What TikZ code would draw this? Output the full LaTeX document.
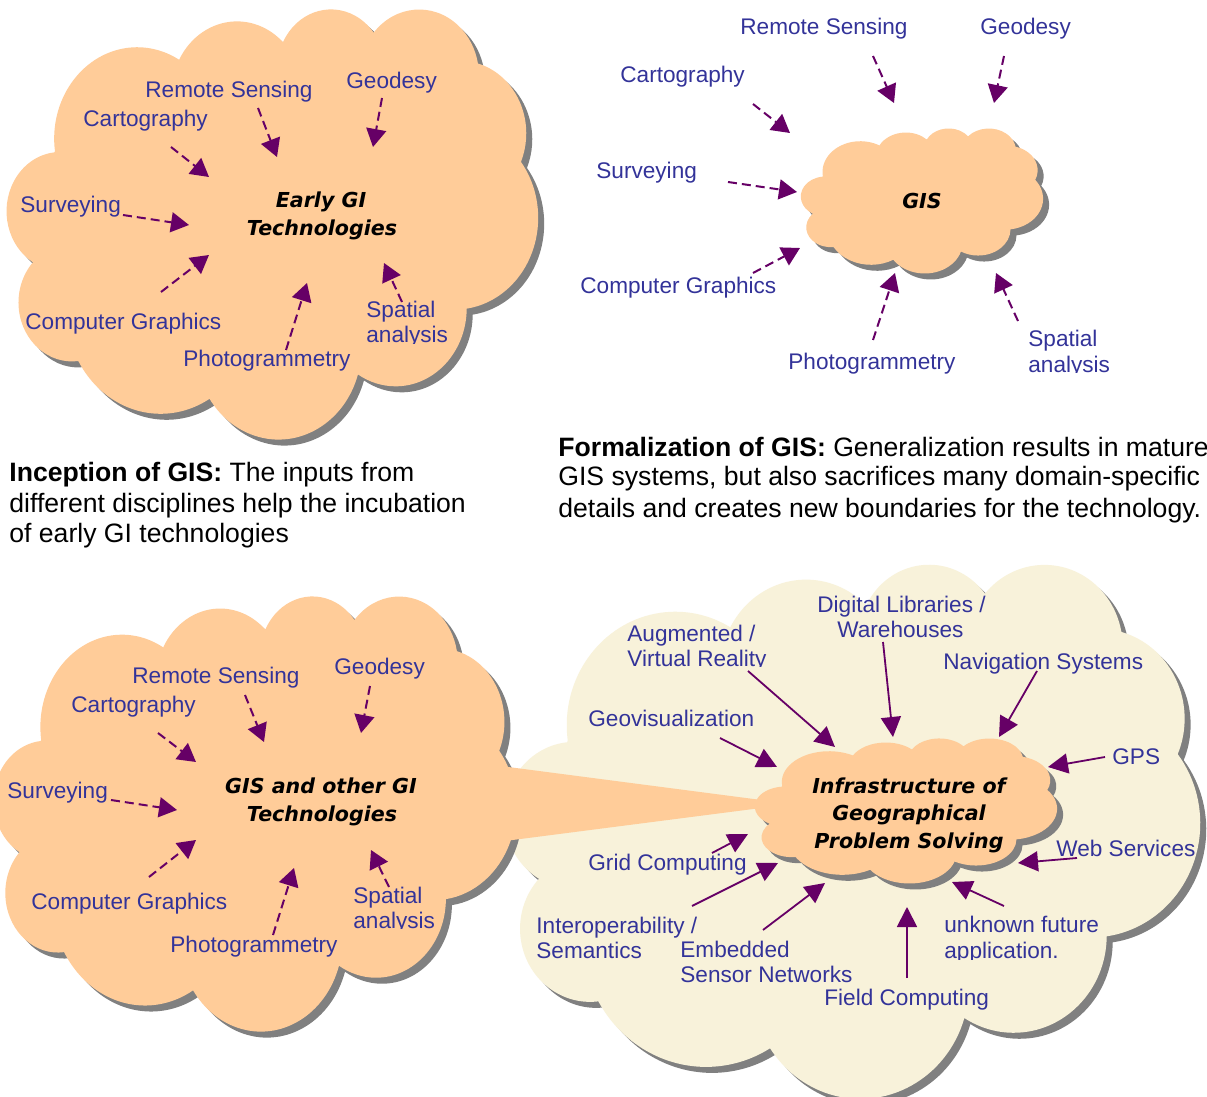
\documentclass[tikz,border=0pt]{standalone}
\usepackage{fontspec}
\setmainfont{Liberation Sans}
\newfontfamily\titlefont{DejaVu Sans}
\usetikzlibrary{arrows.meta}

\definecolor{peach}{HTML}{FFCC99}
\definecolor{cream}{RGB}{248,242,218}
\definecolor{cloudshadowgray}{HTML}{808080}
\definecolor{labelblue}{HTML}{333399}
\definecolor{arrowpurple}{HTML}{660066}

% Outline of a cloud in a 4320 x 4320 frame (y grows downwards),
% built from eleven elliptical arcs.
\newcommand\gicloudpath{(390,1437)
 arc[x radius=675.3,y radius=919.0,start angle=172.25,delta angle=128.11]
 arc[x radius=533.3,y radius=726.7,start angle=-152.02,delta angle=106.58]
 arc[x radius=436.5,y radius=594.5,start angle=-153.49,delta angle=116.16]
 arc[x radius=485.7,y radius=659.5,start angle=-139.69,delta angle=129.48]
 arc[x radius=533.3,y radius=727.3,start angle=-74.77,delta angle=97.98]
 arc[x radius=677.5,y radius=922.0,start angle=-37.53,delta angle=119.39]
 arc[x radius=578.5,y radius=786.7,start angle=0.46,delta angle=121.52]
 arc[x radius=675.2,y radius=921.5,start angle=16.85,delta angle=129.41]
 arc[x radius=772.0,y radius=1054.3,start angle=58.99,delta angle=91.20]
 arc[x radius=436.0,y radius=591.8,start angle=83.31,delta angle=139.79]
 arc[x radius=434.5,y radius=594.5,start angle=120.36,delta angle=143.75]
 -- cycle}

% cloud with drop shadow: left, top, width, height, fill colour
\newcommand\gicloud[5]{%
  \fill[cloudshade, shift={(#1+6,#2+6)}, xscale=#3/4320, yscale=#4/4320] \gicloudpath;
  \fill[#5, shift={(#1,#2)}, xscale=#3/4320, yscale=#4/4320] \gicloudpath;}

\begin{document}
\begin{tikzpicture}[x=0.5pt,y=-0.5pt,
  lbl/.style={font=\fontsize{11.3}{13}\selectfont, text=labelblue, inner sep=0pt, anchor=base west},
  ttl/.style={font=\titlefont\bfseries\itshape\fontsize{10.3}{12}\selectfont, inner sep=0pt, anchor=base},
  captext/.style={font=\fontsize{13.3}{15}\selectfont, inner sep=0pt, anchor=base west},
  darr/.style={draw=arrowpurple, line width=1pt, dash pattern=on 4.5pt off 2.5pt,
               -{Triangle[length=9pt,width=10pt]}},
  sarr/.style={draw=arrowpurple, line width=0.9pt, -{Triangle[length=10pt,width=10pt]}},
  cloudshade/.style={fill=cloudshadowgray}]
\useasboundingbox (0,0) rectangle (1207,1097);
\clip (0,0) rectangle (1207,1097);
\fill[white] (0,0) rectangle (1207,1097);

% ---------- clouds ----------
\gicloud{505}{563}{695}{534}{cream}
\gicloud{-6}{595}{522}{435}{peach}
\fill[peach] (470,762) -- (792,804) -- (470,845.5) -- cycle;
\gicloud{755}{738}{302}{145}{peach}
\gicloud{7}{8}{531}{430}{peach}
\gicloud{801}{128}{242}{145}{peach}

% ---------- inception ----------
\node[ttl] (ea1) at (321,208) {Early GI};
\node[ttl] (ea2) at (322,235) {Technologies};
\node[lbl] (rsA) at (145,98) {Remote Sensing};
\node[lbl] (geA) at (346,89) {Geodesy};
\node[lbl] (caA) at (83,127) {Cartography};
\node[lbl] (suA) at (20,213) {Surveying};
\node[lbl] (cgA) at (25,329) {Computer Graphics};
\node[lbl] (phA) at (183,366) {Photogrammetry};
\node[lbl] (spA) at (366,318) {Spatial};
\begin{scope}
  \clip (360,320) rectangle (470,343.5);
  \node[lbl] (anA) at (366,343) {analysis};
\end{scope}
\coordinate (rsAs) at (258,108); \coordinate (rsAe) at (277,157);
\coordinate (geAs) at (382,98);  \coordinate (geAe) at (373,147);
\coordinate (caAs) at (171,147); \coordinate (caAe) at (209,177);
\coordinate (suAs) at (123,215); \coordinate (suAe) at (189,225);
\coordinate (cgAs) at (161,292); \coordinate (cgAe) at (209,255);
\coordinate (phAs) at (286,350); \coordinate (phAe) at (307,283);
\coordinate (spAs) at (402,302); \coordinate (spAe) at (384,263);
\foreach \a in {rsA,geA,caA,suA,cgA,phA,spA} \draw[darr] (\a s) -- (\a e);

\node[captext] (inc1) at (9,481) {\textbf{Inception of GIS:} The inputs from};
\node[captext] (inc2) at (9,512) {different disciplines help the incubation};
\node[captext] (inc3) at (9,542) {of early GI technologies};

% ---------- formalization ----------
\node[ttl] (gis) at (922,209) {GIS};
\node[lbl] (rsB) at (740,35) {Remote Sensing};
\node[lbl] (geB) at (980,35) {Geodesy};
\node[lbl] (caB) at (620,83) {Cartography};
\node[lbl] (suB) at (596,179) {Surveying};
\node[lbl] (cgB) at (580,293) {Computer Graphics};
\node[lbl] (phB) at (788,370) {Photogrammetry};
\node[lbl] (spB) at (1028,347) {Spatial};
\begin{scope}
  \clip (1020,350) rectangle (1130,372.5);
  \node[lbl] (anB) at (1028,372) {analysis};
\end{scope}
\coordinate (rsBs) at (873,56);  \coordinate (rsBe) at (894,103);
\coordinate (geBs) at (1004,56); \coordinate (geBe) at (994,103);
\coordinate (caBs) at (753,104); \coordinate (caBe) at (790,133);
\coordinate (suBs) at (728,182); \coordinate (suBe) at (797,192);
\coordinate (cgBs) at (753,273); \coordinate (cgBe) at (800,248);
\coordinate (phBs) at (873,340); \coordinate (phBe) at (895,273);
\coordinate (spBs) at (1018,321); \coordinate (spBe) at (996,273);
\foreach \a in {rsB,geB,caB,suB,cgB,phB,spB} \draw[darr] (\a s) -- (\a e);

\node[captext] (for1) at (558,456) {\textbf{Formalization of GIS:} Generalization results in mature};
\node[captext] (for2) at (558,486) {GIS systems, but also sacrifices many domain-specific};
\node[captext] (for3) at (558,517) {details and creates new boundaries for the technology.};

% ---------- GIS and other GI technologies ----------
\node[ttl] (ot1) at (321,793) {GIS and other GI};
\node[ttl] (ot2) at (322,821) {Technologies};
\node[lbl] (rsC) at (132,683) {Remote Sensing};
\node[lbl] (geC) at (334,674) {Geodesy};
\node[lbl] (caC) at (71,712) {Cartography};
\node[lbl] (suC) at (7,798) {Surveying};
\node[lbl] (cgC) at (31,909) {Computer Graphics};
\node[lbl] (phC) at (170,952) {Photogrammetry};
\node[lbl] (spC) at (353,903) {Spatial};
\begin{scope}
  \clip (345,905) rectangle (460,928.5);
  \node[lbl] (anC) at (353,928) {analysis};
\end{scope}
\coordinate (rsCs) at (245,695); \coordinate (rsCe) at (264,742);
\coordinate (geCs) at (370,686); \coordinate (geCe) at (361,733);
\coordinate (caCs) at (158,733); \coordinate (caCe) at (196,762);
\coordinate (suCs) at (111,800); \coordinate (suCe) at (177,810);
\coordinate (cgCs) at (149,877); \coordinate (cgCe) at (196,840);
\coordinate (phCs) at (273,935); \coordinate (phCe) at (294,868);
\coordinate (spCs) at (389,887); \coordinate (spCe) at (371,850);
\foreach \a in {rsC,geC,caC,suC,cgC,phC,spC} \draw[darr] (\a s) -- (\a e);

% ---------- infrastructure ----------
\node[ttl] (in1) at (909,793) {Infrastructure of};
\node[ttl] (in2) at (909,820) {Geographical};
\node[ttl] (in3) at (909,848) {Problem Solving};
\node[lbl] (dl1) at (817,612) {Digital Libraries /};
\node[lbl] (dl2) at (837,637) {Warehouses};
\node[lbl] (av1) at (627,641) {Augmented /};
\begin{scope}
  \clip (620,645) rectangle (800,666.5);
  \node[lbl] (av2) at (627,666) {Virtual Reality};
\end{scope}
\node[lbl] (navl) at (943,669) {Navigation Systems};
\node[lbl] (gvzl) at (588,726) {Geovisualization};
\node[lbl] (gpsl) at (1112,764) {GPS};
\node[lbl] (webl) at (1056,856) {Web Services};
\node[lbl] (grdl) at (588,870) {Grid Computing};
\node[lbl] (io1) at (536,933) {Interoperability /};
\node[lbl] (io2) at (536,958) {Semantics};
\node[lbl] (em1) at (680,957) {Embedded};
\node[lbl] (em2) at (680,982) {Sensor Networks};
\node[lbl] (fldl) at (824,1005) {Field Computing};
\node[lbl] (uf1) at (944,932) {unknown future};
\begin{scope}
  \clip (940,937) rectangle (1080,959);
  \node[lbl] (uf2) at (944,958) {application.};
\end{scope}
\coordinate (avs) at (748,671);  \coordinate (ave) at (835,747);
\coordinate (dls) at (883,642);  \coordinate (dle) at (893,737);
\coordinate (nas) at (1037,671); \coordinate (nae) at (999,737);
\coordinate (gvs) at (720,738);  \coordinate (gve) at (777,767);
\coordinate (gps) at (1105,757); \coordinate (gpe) at (1048,767);
\coordinate (wes) at (1077,858); \coordinate (wee) at (1018,863);
\coordinate (grs) at (712,853);  \coordinate (gre) at (748,834);
\coordinate (ios) at (692,906);  \coordinate (ioe) at (778,863);
\coordinate (ems) at (763,930);  \coordinate (eme) at (825,883);
\coordinate (fis) at (907,978);  \coordinate (fie) at (907,907);
\coordinate (ufs) at (1004,906); \coordinate (ufe) at (952,882);
\foreach \a in {av,dl,na,gv,gp,we,gr,io,em,fi,uf} \draw[sarr] (\a s) -- (\a e);

\end{tikzpicture}
\end{document}
